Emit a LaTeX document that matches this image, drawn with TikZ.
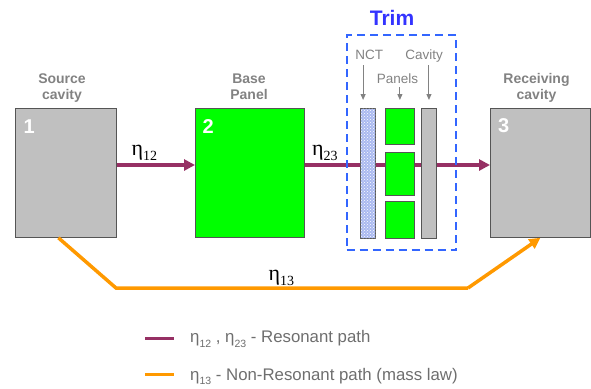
\documentclass[tikz,border=0pt]{standalone}
\usepackage{fontspec}
\setmainfont{Liberation Sans}
\newfontfamily\serifeta{Liberation Serif}
\usetikzlibrary{arrows.meta,patterns}
\definecolor{respurple}{RGB}{150,48,100}
\definecolor{nrorange}{RGB}{255,153,0}
\definecolor{cavgray}{RGB}{192,192,192}
\definecolor{pangreen}{RGB}{0,255,0}
\definecolor{edgegray}{RGB}{85,85,85}
\definecolor{labgray}{RGB}{130,130,130}
\definecolor{leggray}{RGB}{110,110,110}
\definecolor{trimblue}{RGB}{51,51,255}
\definecolor{dashblue}{RGB}{51,102,255}
\definecolor{nctblue}{RGB}{170,185,240}
\newcommand\etalab[1]{{\serifeta\fontsize{22}{22}\selectfont η\raisebox{-5.5pt}{\fontsize{14}{14}\selectfont #1}}}
\newcommand\etasans[1]{η\raisebox{-4.5pt}{\fontsize{10.5}{10.5}\selectfont #1}}
\begin{document}
\begin{tikzpicture}[x=1pt,y=-1pt,
  cavbox/.style={draw=edgegray,line width=0.8pt,fill=cavgray,inner sep=0,anchor=north west},
  panbox/.style={draw=edgegray,line width=0.8pt,fill=pangreen,inner sep=0,anchor=north west},
  ncbox/.style={draw=edgegray,line width=0.8pt,fill=nctblue,inner sep=0,anchor=north west,
     postaction={pattern=crosshatch dots,pattern color=white}},
  boxlab/.style={text=labgray,font=\bfseries\fontsize{14}{16}\selectfont,anchor=base,inner sep=0},
  smalllab/.style={text=labgray,font=\fontsize{13.5}{16}\selectfont,anchor=base,inner sep=0},
  numlab/.style={text=white,font=\bfseries\fontsize{20}{20}\selectfont,anchor=base west,inner sep=0},
  etanode/.style={anchor=base west,inner sep=0},
  res/.style={draw=respurple,line width=3.5pt,-{Triangle[length=11pt,width=11pt]}},
  resplain/.style={draw=respurple,line width=3.5pt},
  nonres/.style={draw=nrorange,line width=3.5pt,line join=miter},
  pointer/.style={draw=labgray,line width=1pt,-{Triangle[length=6pt,width=5pt]}},
  legtext/.style={text=leggray,font=\fontsize{16.8}{18}\selectfont,anchor=base west,inner sep=0}]
\useasboundingbox (0,0) rectangle (591,388);

% main boxes
\node[cavbox,minimum width=101pt,minimum height=129pt] (src) at (15,108) {};
\node[panbox,minimum width=109pt,minimum height=129pt] (base) at (195,108) {};
\node[cavbox,minimum width=100pt,minimum height=129pt] (rcv) at (490,108) {};

\coordinate (liney) at (0,165);

% resonant paths (behind the trim)
\draw[res] (src.east |- liney) -- (base.west |- liney);
\draw[res] (base.east |- liney) -- (rcv.west |- liney);

% trim elements
\node[ncbox,minimum width=15pt,minimum height=130pt] (nct) at (360,108) {};
\node[panbox,minimum width=29pt,minimum height=36pt] (p1) at (385,108) {};
\node[panbox,minimum width=29pt,minimum height=43pt] (p2) at (385,151.5) {};
\node[panbox,minimum width=29pt,minimum height=37pt] (p3) at (385,201) {};
\node[cavbox,minimum width=14.5pt,minimum height=130pt] (cav) at (421.3,108) {};

% dashed trim frame
\node[draw=dashblue,line width=1.8pt,dash pattern=on 8pt off 5pt,inner sep=0,
  minimum width=109.5pt,minimum height=215pt,anchor=north west] (trim) at (345.7,34.3) {};
\node[text=trimblue,font=\bfseries\fontsize{21}{24}\selectfont,anchor=base,inner sep=0] (trimlab) at (392,25) {Trim};

% labels over boxes
\node[boxlab] (srcl1) at (62,83) {Source};
\node[boxlab] (srcl2) at (62,99.3) {cavity};
\node[boxlab] (basel1) at (249,83) {Base};
\node[boxlab] (basel2) at (249,99.3) {Panel};
\node[boxlab] (rcvl1) at (536.5,83) {Receiving};
\node[boxlab] (rcvl2) at (536.5,99.3) {cavity};

\node[numlab] (n1) at (23.5,133) {1};
\node[numlab] (n2) at (202.5,133.3) {2};
\node[numlab] (n3) at (498,132.7) {3};

% trim labels and pointers
\node[smalllab] (nctlab) at (369.3,59) {NCT};
\node[smalllab] (cavlab) at (424,59) {Cavity};
\node[smalllab] (panlab) at (397.5,83) {Panels};
\draw[pointer,shorten <=6pt,shorten >=8pt] ([xshift=-4.8pt]nct.north |- nctlab.base) -- ([xshift=-4.8pt]nct.north);
\draw[pointer,shorten <=4pt,shorten >=8pt] (p1.north |- panlab.base) -- (p1.north);
\draw[pointer,shorten <=6pt,shorten >=8pt] (cav.north |- cavlab.base) -- (cav.north);

% eta labels
\node[etanode] (e12) at (131.5,155) {\etalab{12}};
\node[etanode] (e23) at (312,155) {\etalab{23}};
\node[etanode] (e13) at (268.5,280) {\etalab{13}};

% non-resonant path
\coordinate (nr1) at (116,288);
\coordinate (nr2) at (468,288);
\draw[nonres] ([xshift=-7.5pt]src.south) -- (nr1) -- (nr2);
\draw[nonres,line cap=butt,-{Triangle[length=11pt,width=11pt]}] (nr2) -- (rcv.south);

% legend
\coordinate (lg1a) at (145,338.5);
\coordinate (lg1b) at (173.5,338.5);
\coordinate (lg2a) at (145,374);
\coordinate (lg2b) at (173.5,374);
\draw[resplain,line width=3pt] (lg1a) -- (lg1b);
\draw[nonres,line width=3pt] (lg2a) -- (lg2b);
\node[legtext] (leg1) at (190,342.5) {\etasans{12} , \etasans{23} - Resonant path};
\node[legtext] (leg2) at (190,380) {\etasans{13} - Non-Resonant path (mass law)};
\end{tikzpicture}
\end{document}
